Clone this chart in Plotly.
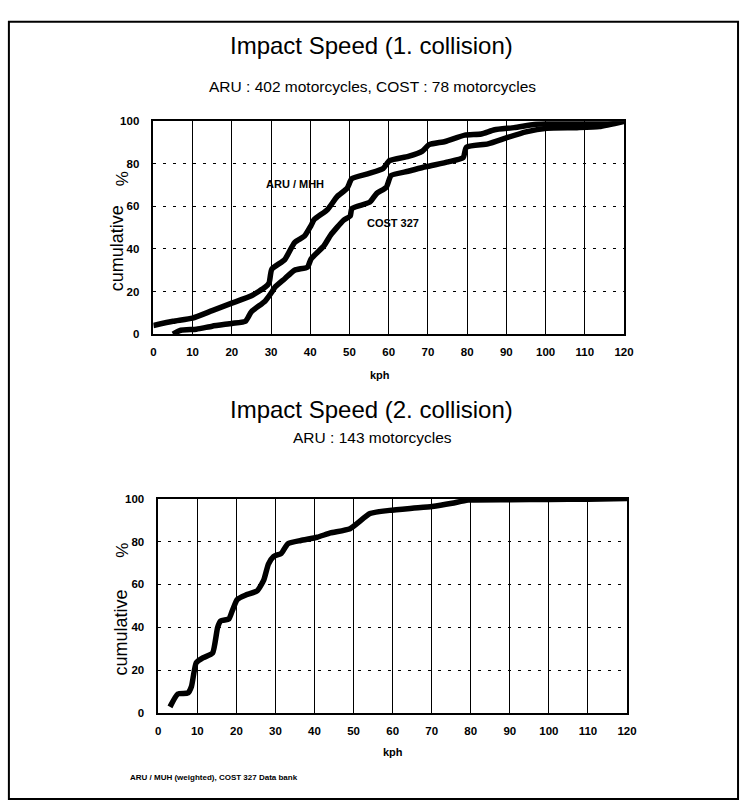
import plotly.graph_objects as go

W, H = 750, 807

# Axis ticks
speed_ticks = list(range(0, 121, 10))
pct_ticks = list(range(0, 101, 20))

# Impact speed, 1st collision: ARU / MHH (402 motorcycles)
aru1_kph = [0, 5, 10, 15, 20, 25, 28.5, 29.5, 30.2, 33.5, 36, 38.5, 40.2, 41, 44.4, 46.9,
            49.4, 50.6, 55, 58.6, 60.2, 65, 68.6, 70.3, 74.4, 79.4, 83.6, 87, 92, 97,
            100, 110, 115, 120]
aru1_pct = [4, 6, 7.5, 11, 14.5, 18, 22, 24, 30.5, 35, 43, 46, 51, 53.8, 58.5, 64.7,
            68.5, 73, 75.5, 77.8, 81.5, 83.5, 86, 89, 90.5, 93.5, 94, 96, 97, 98.5,
            98.8, 99, 99.3, 100]

# Impact speed, 1st collision: COST 327 (78 motorcycles)
cost_kph = [5, 7, 11, 15, 20, 23.5, 25, 28.5, 30.3, 31, 33.5, 36, 39.3, 40.2, 43.5, 45.2,
            48.5, 50.2, 50.6, 55.2, 56.9, 59.4, 60.6, 65, 69.4, 75.2, 79, 79.8, 85.3,
            90.3, 95, 100.3, 108, 113.7, 120]
cost_pct = [0, 1.8, 2.3, 3.7, 5, 6, 10.5, 15.5, 20, 22, 26, 30, 31.5, 35.3, 41.5, 46.5,
            53.5, 55.5, 59, 62, 66, 69, 74.5, 76.5, 78.6, 80.9, 83, 87.8, 89.4,
            92.4, 95, 96.7, 97, 97.5, 100]

# Impact speed, 2nd collision: ARU (143 motorcycles)
aru2_kph = [3, 5, 7.6, 8.5, 9.7, 11.4, 13.9, 15.2, 16, 18.1, 19, 20.2, 22.3, 25.3, 27,
            28.2, 29.5, 31.5, 33.2, 36.5, 40.7, 44.1, 49.1, 54.2, 59.2, 65, 70.1, 75.2,
            79.3, 90, 100, 110, 120]
aru2_pct = [3, 9, 9.5, 12.5, 23.5, 25.8, 28, 40, 43, 44, 48, 53, 55, 57, 62,
            69.5, 73, 74.5, 79, 80.5, 82, 84, 86, 93, 94.5, 95.5, 96.3, 97.8,
            99.3, 99.5, 99.6, 99.7, 100]

FONT = "Liberation Sans, Arial, sans-serif"


def fx(px):
    return px / W


def fy(py):
    return 1 - py / H


curve = dict(color="black", width=5.5, shape="spline", smoothing=0.5)

fig = go.Figure()
fig.add_trace(go.Scatter(x=aru1_kph, y=aru1_pct, mode="lines", line=curve,
                         xaxis="x", yaxis="y", hoverinfo="skip", showlegend=False))
fig.add_trace(go.Scatter(x=cost_kph, y=cost_pct, mode="lines", line=curve,
                         xaxis="x", yaxis="y", hoverinfo="skip", showlegend=False))
fig.add_trace(go.Scatter(x=aru2_kph, y=aru2_pct, mode="lines", line=curve,
                         xaxis="x2", yaxis="y2", hoverinfo="skip", showlegend=False))

tick_font = dict(family=FONT, size=11.5, color="black", weight="bold")


def x_axis(domain, anchor):
    return dict(domain=domain, anchor=anchor, range=[0, 120], tickmode="array",
                tickvals=speed_ticks, showgrid=True, gridcolor="black", gridwidth=1,
                showline=True, linecolor="black", linewidth=1.5, mirror=True,
                ticks="", ticklabelstandoff=6, tickfont=tick_font, zeroline=False)


def y_axis(domain, anchor):
    return dict(domain=domain, anchor=anchor, range=[0, 100], tickmode="array",
                tickvals=pct_ticks, showgrid=True, gridcolor="black", gridwidth=1,
                griddash="3px,7px", showline=True, linecolor="black", linewidth=1.5,
                mirror=True, ticks="", ticklabelstandoff=10, tickfont=tick_font,
                zeroline=False)


# plot areas in pixels
top_box = (153, 632, 117, 333)
bot_box = (158, 635, 500, 718)

fig.update_layout(
    width=W, height=H,
    margin=dict(l=0, r=0, t=0, b=0),
    paper_bgcolor="white", plot_bgcolor="white",
    xaxis=x_axis([fx(top_box[0]), fx(top_box[1])], "y"),
    yaxis=y_axis([fy(top_box[3]), fy(top_box[2])], "x"),
    xaxis2=x_axis([fx(bot_box[0]), fx(bot_box[1])], "y2"),
    yaxis2=y_axis([fy(bot_box[3]), fy(bot_box[2])], "x2"),
    showlegend=False,
)


def note(text, x, y, size, bold=False, angle=0, anchor="center"):
    fig.add_annotation(text=text, x=fx(x), y=fy(y), xref="paper", yref="paper",
                       showarrow=False, textangle=angle, xanchor=anchor, yanchor="middle",
                       font=dict(family=FONT, size=size, color="black",
                                 weight="bold" if bold else "normal"))


# titles and subtitles
note("Impact Speed (1. collision)", 375, 40, 24)
note("ARU : 402 motorcycles, COST : 78 motorcycles", 376, 82, 15.5)
note("Impact Speed (2. collision)", 375, 410, 24)
note("ARU : 143 motorcycles", 376, 438, 15.5)

# axis titles
note("cumulative", 116, 246, 18, angle=-90)
note("%", 121, 175, 17, angle=-90)
note("kph", 384, 375, 11, bold=True)
note("cumulative", 120, 636, 18, angle=-90)
note("%", 122, 552, 17, angle=-90)
note("kph", 397, 757, 11, bold=True)

# series labels
note("ARU / MHH", 297, 181, 11, bold=True)
note("COST 327", 397, 220, 11, bold=True)

# footer
note("ARU / MUH (weighted), COST 327 Data bank", 127, 783, 8, bold=True, anchor="left")

# outer frame
fig.add_shape(type="rect", xref="paper", yref="paper",
              x0=fx(6), x1=fx(748), y0=fy(805), y1=fy(16),
              line=dict(color="black", width=2), fillcolor="rgba(0,0,0,0)", layer="below")

fig.write_html("out.html")
